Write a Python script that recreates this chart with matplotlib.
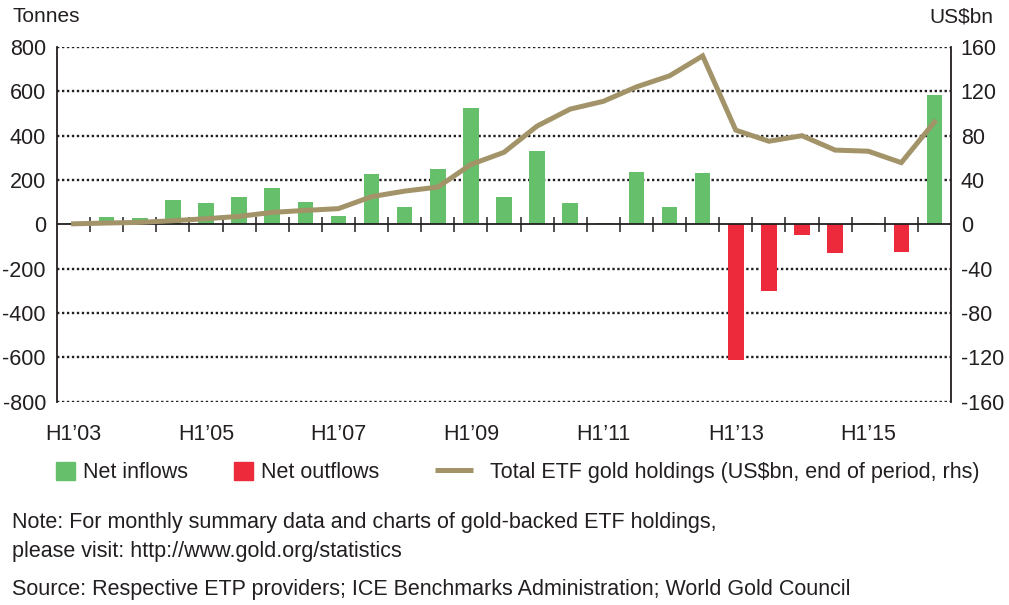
import matplotlib
matplotlib.use("Agg")
import matplotlib.pyplot as plt
import matplotlib.patches as mpatches
from matplotlib.lines import Line2D
import numpy as np

# half-year periods, H1'03 .. H1'16
periods = ["H1’03", "H2’03", "H1’04", "H2’04", "H1’05", "H2’05", "H1’06", "H2’06",
           "H1’07", "H2’07", "H1’08", "H2’08", "H1’09", "H2’09", "H1’10", "H2’10",
           "H1’11", "H2’11", "H1’12", "H2’12", "H1’13", "H2’13", "H1’14", "H2’14",
           "H1’15", "H2’15", "H1’16"]
tick_labels = ["H1’03", "H1’05", "H1’07", "H1’09", "H1’11", "H1’13", "H1’15"]

# net flows, tonnes
flows = [5, 35, 28, 111, 95, 122, 166, 99, 39, 227, 78, 250, 525, 122, 330, 95,
         7, 238, 78, 233, -612, -302, -47, -131, 6, -126, 582]
# total ETF gold holdings, US$bn (rhs)
holdings = [0.5, 1.2, 1.8, 3.3, 5.1, 7.2, 10.8, 12.6, 14.2, 25, 30, 33.6, 54, 65,
            88.7, 104, 111, 124, 134, 152, 85, 75, 80, 67, 66, 55.7, 92.3]

GREEN = "#66bf6a"
RED = "#ec2a3c"
GOLD = "#a39368"
INK = "#231f20"
FS = 15.5

plt.rcParams["font.family"] = ["Liberation Sans", "DejaVu Sans"]
plt.rcParams["text.color"] = INK
plt.rcParams["axes.unicode_minus"] = False

fig = plt.figure(figsize=(10.09, 6.05), dpi=100)
ax = fig.add_axes([0.0565, 0.336, 0.886, 0.5863])
ax2 = ax.twinx()

x = np.arange(len(periods))
vals = np.array(flows)
colors = [GREEN if v >= 0 else RED for v in vals]
ax.bar(x, vals, width=0.47, color=colors, zorder=2)

ax.set_xlim(-0.5, len(periods) - 0.5)
ax.set_ylim(-800, 800)
ax.set_yticks(np.arange(-800, 801, 200))
ax.set_axisbelow(True)
for yv in np.arange(-800, 801, 200):
    if yv != 0:
        ax.axhline(yv, color=INK, lw=1.7, ls=(0, (1, 1.1)), zorder=1)

# zero axis with period-boundary ticks
ax.axhline(0, color=INK, lw=1.3, zorder=3)
ax.vlines(x[1:] - 0.5, -34, 34, color=INK, lw=1.1, zorder=3)

ax.set_xticks([periods.index(t) for t in tick_labels])
ax.set_xticklabels(tick_labels)
ax.tick_params(axis="x", length=0, pad=16, labelsize=FS, labelcolor=INK)
ax.tick_params(axis="y", length=0, pad=8, labelsize=FS, labelcolor=INK)

ax2.plot(x, holdings, color=GOLD, lw=3.6, solid_joinstyle="miter", zorder=4)
ax2.set_ylim(-160, 160)
ax2.set_yticks(np.arange(-160, 161, 40))
ax2.tick_params(axis="y", length=0, pad=7, labelsize=FS, labelcolor=INK)

for a in (ax, ax2):
    a.spines["top"].set_visible(False)
    a.spines["bottom"].set_visible(False)
    a.spines["left"].set_color(INK)
    a.spines["right"].set_color(INK)
    a.spines["left"].set_linewidth(1.3)
    a.spines["right"].set_linewidth(1.3)
ax.spines["right"].set_visible(False)
ax2.spines["left"].set_visible(False)

fig.text(0.012, 0.972, "Tonnes", fontsize=15, va="center", ha="left")
fig.text(0.985, 0.972, "US$bn", fontsize=15, va="center", ha="right")

# legend: squares for the bars, a short thick line for holdings
leg1 = fig.legend([mpatches.Patch(color=GREEN), mpatches.Patch(color=RED)],
                  ["Net inflows", "Net outflows"],
                  loc="center left", bbox_to_anchor=(0.0555, 0.219), ncol=2,
                  frameon=False, fontsize=FS, handlelength=0.884, handleheight=0.884,
                  handletextpad=0.37, columnspacing=2.14, borderpad=0, borderaxespad=0)
leg2 = fig.legend([Line2D([], [], color=GOLD, lw=3.6, solid_capstyle="butt")],
                  ["Total ETF gold holdings (US$bn, end of period, rhs)"],
                  loc="center left", bbox_to_anchor=(0.4311, 0.219),
                  frameon=False, fontsize=FS, handlelength=1.765,
                  handletextpad=0.79, borderpad=0, borderaxespad=0)

fig.text(0.012, 0.137, "Note: For monthly summary data and charts of gold-backed ETF holdings,",
         fontsize=FS, va="center", ha="left")
fig.text(0.012, 0.088, "please visit: http://www.gold.org/statistics",
         fontsize=FS, va="center", ha="left")
fig.text(0.012, 0.025, "Source: Respective ETP providers; ICE Benchmarks Administration; World Gold Council",
         fontsize=FS, va="center", ha="left")

fig.savefig("out.png", dpi=100)
